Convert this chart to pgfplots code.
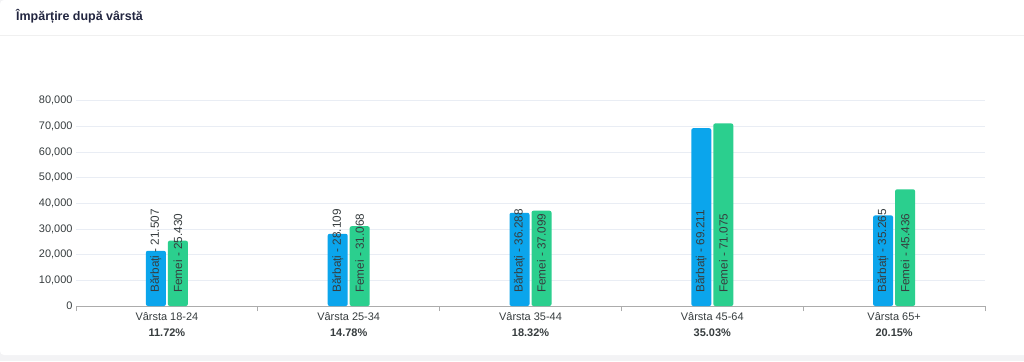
\documentclass[border=0pt]{standalone}
\usepackage{pgfplots}
\pgfplotsset{compat=1.18}
\usepackage{pgfplotstable}
\usepackage{fontspec}
\setmainfont{Liberation Sans}
\definecolor{barblue}{HTML}{0BA5EC}
\definecolor{bargreen}{HTML}{2BCF8E}
\definecolor{gridc}{HTML}{E9EDF4}
\definecolor{txt}{HTML}{373D3F}
\definecolor{titlec}{HTML}{222640}
\definecolor{pagebg}{HTML}{F3F3F5}

% xm, xf: label positions (bar centres, +-11bp = 0.0605 category units)
\pgfplotstableread{
x m f z xm xf
0 21507 25430 0 -0.0605 0.0605
1 28109 31068 0 0.9395 1.0605
2 36288 37099 0 1.9395 2.0605
3 69211 71075 0 2.9395 3.0605
4 35265 45436 0 3.9395 4.0605
}\agedata

\begin{document}
\begin{tikzpicture}[x=1bp,y=1bp]
\useasboundingbox (0,0) rectangle (1024,361);
\begin{scope}
\clip (0,0) rectangle (1024,361);
\fill[pagebg] (0,0) rectangle (1024,361);
\fill[white, rounded corners=4bp] (0,6) rectangle (1030,361);
\draw[gray!12, line width=0.6bp] (0,326) -- (1024,326);
\end{scope}
\node[anchor=west, font=\fontsize{12.5}{14}\selectfont\bfseries, text=titlec, inner sep=0pt] at (16,345) {Împărțire după vârstă};
\begin{axis}[
  at={(76bp,55bp)}, anchor=south west,
  scale only axis, width=909bp, height=205.5bp,
  xmin=-0.5, xmax=4.5, ymin=0, ymax=80000,
  axis x line*=bottom, axis y line*=left,
  separate axis lines,
  x axis line style={draw=gray!65, line width=0.8bp},
  y axis line style={draw=none},
  ytick={0,10000,...,80000},
  ymajorgrids, grid style={gridc, line width=0.6bp},
  yticklabel style={font=\fontsize{11}{13}\selectfont, text=txt},
  scaled y ticks=false,
  /pgf/number format/.cd, fixed, 1000 sep={,}, assume math mode=true, /pgfplots/.cd,
  ytick style={draw=none},
  xtick={-0.5,0.5,1.5,2.5,3.5,4.5}, xticklabels={},
  xtick align=outside, major tick length=5bp,
  xtick style={draw=gray!65, line width=0.8bp},
  extra x ticks={0,1,2,3,4},
  extra x tick style={major tick length=0pt, xticklabel style={align=center, font=\fontsize{11}{16}\selectfont, text=txt, yshift=-3bp}},
  extra x tick labels={Vârsta 18-24\\\textbf{11.72\%},Vârsta 25-34\\\textbf{14.78\%},Vârsta 35-44\\\textbf{18.32\%},Vârsta 45-64\\\textbf{35.03\%},Vârsta 65+\\\textbf{20.15\%}},
  clip=false,
]
\addplot[ybar, bar width=20bp, bar shift=-11bp, fill=barblue, draw=none, rounded corners=2bp] table[x=x, y=m] {\agedata};
\addplot[ybar, bar width=20bp, bar shift=11bp, fill=bargreen, draw=none, rounded corners=2bp] table[x=x, y=f] {\agedata};
\addplot[draw=none, mark=none, point meta=explicit,
  nodes near coords={Bărbați - \pgfmathprintnumber[fixed, precision=0, 1000 sep={.}]{\pgfplotspointmeta}},
  every node near coord/.style={rotate=90, anchor=west, inner ysep=0pt, inner xsep=13bp, font=\fontsize{11.8}{13}\selectfont, text=txt}]
  table[x=xm, y=z, meta=m] {\agedata};
\addplot[draw=none, mark=none, point meta=explicit,
  nodes near coords={Femei - \pgfmathprintnumber[fixed, precision=0, 1000 sep={.}]{\pgfplotspointmeta}},
  every node near coord/.style={rotate=90, anchor=west, inner ysep=0pt, inner xsep=13bp, font=\fontsize{11.8}{13}\selectfont, text=txt}]
  table[x=xf, y=z, meta=f] {\agedata};
\end{axis}
\end{tikzpicture}
\end{document}
